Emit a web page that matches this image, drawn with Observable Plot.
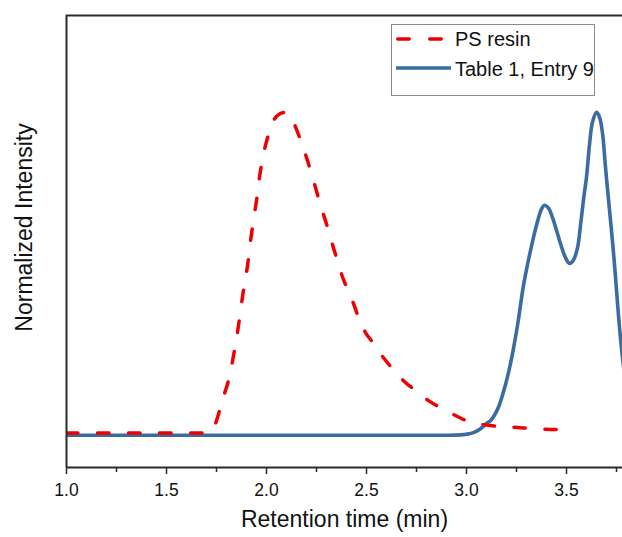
<!DOCTYPE html>
<html>
<head>
<meta charset="utf-8">
<script src="https://cdn.jsdelivr.net/npm/d3@7"></script>
<script src="https://cdn.jsdelivr.net/npm/@observablehq/plot@0.6"></script>
<style>
  html, body { margin: 0; padding: 0; background: #fff; }
  #wrap { position: relative; width: 622px; height: 537px; font-family: Arial, "Liberation Sans", sans-serif; }
  #legend { position: absolute; left: 391px; top: 24px; width: 204px; height: 72px; border: 1px solid #8a8a8a; background: #fff; box-sizing: border-box; }
  #legend svg { position: absolute; left: 0; top: 0; }
  #legend .lab { position: absolute; left: 63px; font-size: 20px; line-height: 22px; color: #111; white-space: nowrap; }
</style>
</head>
<body>
<div id="wrap"></div>
<script>
// PS resin (red dashed)
const psTime = [1.0, 1.2, 1.4, 1.6, 1.7, 1.73, 1.75, 1.78, 1.81, 1.85, 1.885, 1.905, 1.925, 1.95, 1.97, 2.0, 2.035, 2.065, 2.1, 2.12, 2.145, 2.175, 2.2, 2.22, 2.245, 2.265, 2.29, 2.31, 2.335, 2.355, 2.38, 2.405, 2.435, 2.46, 2.495, 2.535, 2.585, 2.63, 2.685, 2.745, 2.81, 2.87, 2.955, 3.02, 3.12, 3.17, 3.255, 3.32, 3.42, 3.49];
const psIntensity = [0.007, 0.007, 0.007, 0.007, 0.008, 0.015, 0.045, 0.11, 0.17, 0.3, 0.45, 0.525, 0.624, 0.727, 0.82, 0.91, 0.975, 0.995, 1.0, 0.99, 0.955, 0.906, 0.86, 0.82, 0.767, 0.723, 0.674, 0.634, 0.58, 0.54, 0.49, 0.452, 0.408, 0.365, 0.318, 0.284, 0.24, 0.206, 0.169, 0.138, 0.107, 0.085, 0.058, 0.04, 0.03, 0.027, 0.024, 0.021, 0.018, 0.018];

// Table 1, Entry 9 (blue solid)
const entryTime = [1.0, 1.5, 2.0, 2.5, 2.9, 2.97, 3.0, 3.035, 3.07, 3.105, 3.12, 3.155, 3.185, 3.22, 3.255, 3.285, 3.32, 3.355, 3.375, 3.39, 3.41, 3.43, 3.45, 3.47, 3.495, 3.515, 3.535, 3.555, 3.57, 3.585, 3.6, 3.615, 3.63, 3.65, 3.665, 3.68, 3.695, 3.71, 3.73, 3.745, 3.76, 3.78, 3.8];
const entryIntensity = [0, 0, 0, 0, 0, 0.001, 0.003, 0.008, 0.02, 0.039, 0.045, 0.08, 0.135, 0.222, 0.34, 0.464, 0.572, 0.662, 0.7, 0.712, 0.703, 0.674, 0.635, 0.593, 0.55, 0.532, 0.543, 0.58, 0.65, 0.73, 0.8, 0.9, 0.97, 1.0, 0.985, 0.935, 0.83, 0.73, 0.6, 0.49, 0.37, 0.24, 0.14];

const seriesNames = ["PS resin", "Table 1, Entry 9"];
const majorTicks = [1.0, 1.5, 2.0, 2.5, 3.0, 3.5];
const minorTicks = [1.25, 1.75, 2.25, 2.75, 3.25, 3.75];
const xDomain = [1.0, 3.78];
const yDomain = [-0.1, 1.3];
const xTitle = "Retention time (min)";
const yTitle = "Normalized Intensity";

const psData = psTime.map((t, i) => ({t, v: psIntensity[i]}));
const entryData = entryTime.map((t, i) => ({t, v: entryIntensity[i]}));

const RED = "#f00000";
const BLUE = "#3a6ca2";
const AX = "#2a2a2a";

const chart = Plot.plot({
  width: 622,
  height: 537,
  marginLeft: 66,
  marginRight: 0,
  marginTop: 15,
  marginBottom: 70,
  style: {fontFamily: "Arial, 'Liberation Sans', sans-serif", background: "#fff", color: "#111"},
  x: {domain: xDomain, axis: null},
  y: {domain: yDomain, axis: null},
  marks: [
    Plot.line(entryData, {x: "t", y: "v", stroke: BLUE, strokeWidth: 3.6, curve: "catmull-rom", clip: true}),
    Plot.line(psData, {x: "t", y: "v", stroke: RED, strokeWidth: 3.5, strokeDasharray: "11.5,19.5", strokeLinecap: "round", curve: "catmull-rom", clip: true}),
    Plot.ruleY([yDomain[1]], {stroke: AX, strokeWidth: 2}),
    Plot.ruleY([yDomain[0]], {stroke: AX, strokeWidth: 2}),
    Plot.ruleX([xDomain[0]], {stroke: AX, strokeWidth: 2}),
    Plot.axisX(minorTicks, {tickSize: 5, text: null, stroke: AX, strokeWidth: 1.5, label: null}),
    Plot.axisX(majorTicks, {tickSize: 7, tickPadding: 9, stroke: AX, strokeWidth: 1.5, fontSize: 17.5, fill: "#111", tickFormat: d => d.toFixed(1), label: null}),
    Plot.text([xTitle], {text: d => d, frameAnchor: "bottom", dy: 59, fontSize: 23, fill: "#111"}),
    Plot.text([yTitle], {text: d => d, frameAnchor: "left", textAnchor: "middle", dx: -42, dy: -14, rotate: -90, fontSize: 23, fill: "#111"})
  ]
});

const wrap = document.getElementById("wrap");
wrap.appendChild(chart);

const legend = document.createElement("div");
legend.id = "legend";
legend.innerHTML = `
  <svg width="62" height="72">
    <line x1="5.75" x2="49.25" y1="14" y2="14" stroke="${RED}" stroke-width="3.5" stroke-dasharray="11.5,20.5" stroke-linecap="round"/>
    <line x1="4" x2="59" y1="43" y2="43" stroke="${BLUE}" stroke-width="3.6"/>
  </svg>
  <div class="lab" style="top:3px">${seriesNames[0]}</div>
  <div class="lab" style="top:33px">${seriesNames[1]}</div>`;
wrap.appendChild(legend);
</script>
</body>
</html>
